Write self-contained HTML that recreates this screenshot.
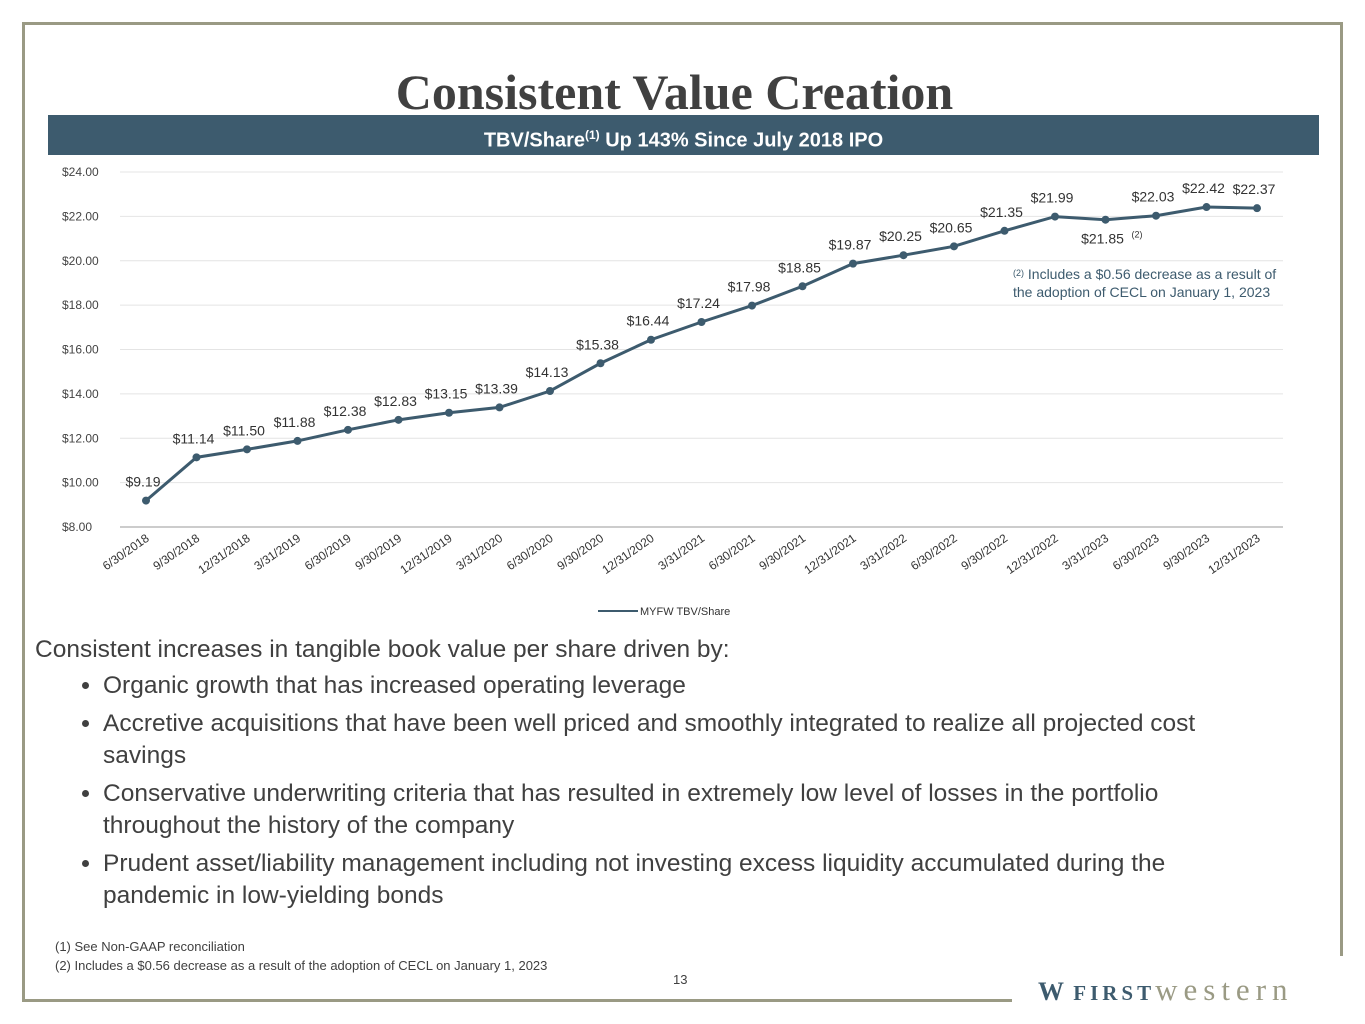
<!DOCTYPE html>
<html><head><meta charset="utf-8"><style>
body{margin:0;width:1365px;height:1024px;background:#fff;position:relative;overflow:hidden;font-family:"Liberation Sans",sans-serif}
.abs{position:absolute}
#title{left:-8px;width:1365px;top:62px;text-align:center;font-family:"Liberation Serif",serif;font-weight:bold;font-size:50px;color:#404040;line-height:60px}
#band{left:48px;top:115px;width:1271px;height:40px;background:#3d5b6e;color:#fff;text-align:center;font-weight:bold;font-size:20px;line-height:40px}
#band sup{font-size:12px}
#body{left:35px;top:634px;font-size:24.5px;color:#404040;line-height:32px;width:1235px}
#body ul{margin:4px 0 0 0;padding-left:68px}
#body li{margin-bottom:6px}
.fn{left:55px;font-size:13px;color:#404040}
</style></head><body>
<div class="abs" style="left:22px;top:22px;width:1321px;height:3px;background:#9a9a84"></div>
<div class="abs" style="left:22px;top:22px;width:3px;height:980px;background:#9a9a84"></div>
<div class="abs" style="left:1340px;top:22px;width:3px;height:934px;background:#9a9a84"></div>
<div class="abs" style="left:22px;top:999px;width:990px;height:3px;background:#9a9a84"></div>
<div id="title" class="abs">Consistent Value Creation</div>
<div id="band" class="abs">TBV/Share<sup>(1)</sup> Up 143% Since July 2018 IPO</div>
<svg class="abs" style="left:0;top:0" width="1365" height="640" id="chart"></svg>
<div id="body" class="abs">Consistent increases in tangible book value per share driven by:
<ul>
<li>Organic growth that has increased operating leverage</li>
<li>Accretive acquisitions that have been well priced and smoothly integrated to realize all projected cost savings</li>
<li>Conservative underwriting criteria that has resulted in extremely low level of losses in the portfolio throughout the history of the company</li>
<li>Prudent asset/liability management including not investing excess liquidity accumulated during the pandemic in low-yielding bonds</li>
</ul></div>
<div class="abs fn" style="top:939px">(1) See Non-GAAP reconciliation</div>
<div class="abs fn" style="top:958px">(2) Includes a $0.56 decrease as a result of the adoption of CECL on January 1, 2023</div>
<div class="abs" style="left:673px;top:972px;font-size:13px;color:#404040">13</div>
<div class="abs" style="left:1038px;top:972px;font-family:'Liberation Serif',serif;font-size:31px;white-space:nowrap"><span style="color:#3d5b6e;font-size:26px;font-weight:bold">W</span><span style="color:#3d5b6e;font-weight:bold;font-size:21px;letter-spacing:4px"> FIRST</span><span style="color:#9a9a84;letter-spacing:6px">western</span></div>
<script>
const categories=["6/30/2018","9/30/2018","12/31/2018","3/31/2019","6/30/2019","9/30/2019","12/31/2019","3/31/2020","6/30/2020","9/30/2020","12/31/2020","3/31/2021","6/30/2021","9/30/2021","12/31/2021","3/31/2022","6/30/2022","9/30/2022","12/31/2022","3/31/2023","6/30/2023","9/30/2023","12/31/2023"];
const values=[9.19,11.14,11.50,11.88,12.38,12.83,13.15,13.39,14.13,15.38,16.44,17.24,17.98,18.85,19.87,20.25,20.65,21.35,21.99,21.85,22.03,22.42,22.37];
const yTicks=[8,10,12,14,16,18,20,22,24];
const svg=document.getElementById('chart');const NS='http://www.w3.org/2000/svg';
const y=v=>527-(v-8)*(355/16);
const x=i=>146+i*(1257-146)/(categories.length-1);
function mk(t,a,p){const e=document.createElementNS(NS,t);for(const k in a)e.setAttribute(k,a[k]);(p||svg).appendChild(e);return e;}
yTicks.forEach(t=>{
 const l=mk('line',{x1:120,x2:1283,y1:y(t),y2:y(t),stroke:t===8?'#999':'#e4e4e4','stroke-width':1});
 
 
 const tx=mk('text',{x:62,y:y(t)+4,'font-size':12,fill:'#444'});tx.textContent='$'+t.toFixed(2);
 
 
});
const pl=mk('polyline',{points:values.map((v,i)=>x(i)+','+y(v)).join(' '),fill:'none',stroke:'#3d5b6e','stroke-width':3});


values.forEach((v,i)=>{
 const c=mk('circle',{cx:x(i),cy:y(v),r:4,fill:'#3d5b6e'});
 
 
 const below=i===19;
 const t=mk('text',{x:x(i)-3,y:below?y(v)+24:y(v)-14,'font-size':14,fill:'#333','text-anchor':'middle'});
 t.textContent='$'+v.toFixed(2);
 
 
 if(below){const s=mk('text',{x:x(i)+26,y:y(v)+18,'font-size':9,fill:'#333'});s.textContent='(2)';
 
 }
 const cl=mk('text',{x:x(i)+4,y:540,'font-size':12,fill:'#333','text-anchor':'end',transform:`rotate(-35 ${x(i)+4} 540)`});
 cl.textContent=categories[i];
 
 
});
const n1=mk('text',{x:1013,y:279,'font-size':14,fill:'#3d5b6e'});n1.innerHTML='<tspan font-size="9" dy="-3">(2)</tspan><tspan dy="3"> Includes a $0.56 decrease as a result of</tspan>';


const n2=mk('text',{x:1013,y:297,'font-size':14,fill:'#3d5b6e'});n2.textContent='the adoption of CECL on January 1, 2023';


const lg=mk('line',{x1:598,x2:638,y1:611,y2:611,stroke:'#3d5b6e','stroke-width':2});


const lgt=mk('text',{x:640,y:615,'font-size':11,fill:'#333'});lgt.textContent='MYFW TBV/Share';


</script>
</body></html>
